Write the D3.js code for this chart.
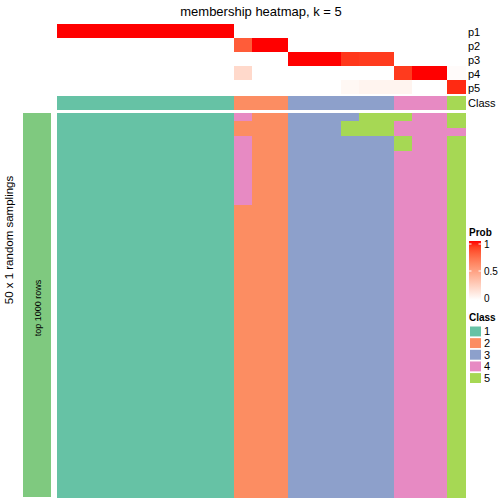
<!DOCTYPE html>
<html><head><meta charset="utf-8">
<script src="https://cdn.jsdelivr.net/npm/d3@7"></script>
<style>body{margin:0;background:#fff}svg{display:block}text{font-family:"Liberation Sans",Arial,Helvetica,sans-serif}</style>
</head><body>
<script>
// ---- data ----
const title = "membership heatmap, k = 5";
const probRows = ["p1", "p2", "p3", "p4", "p5"];
const p1 = [1,1,1,1,1,1,1,1,1,1, 0, 0,0, 0,0,0, 0, 0,0, 0, 0,0, 0];
const p2 = [0,0,0,0,0,0,0,0,0,0, 0.8, 1,1, 0,0,0, 0, 0,0, 0, 0,0, 0];
const p3 = [0,0,0,0,0,0,0,0,0,0, 0, 0,0, 1,1,1, 0.92, 0.91,0.91, 0, 0,0, 0];
const p4 = [0,0,0,0,0,0,0,0,0,0, 0.2, 0,0, 0,0,0, 0, 0,0, 0.91, 1,1, 0.02];
const p5 = [0,0,0,0,0,0,0,0,0,0, 0, 0,0, 0,0,0, 0.04, 0.06,0.06, 0.06, 0,0, 0.95];
const classes = [1,1,1,1,1,1,1,1,1,1, 2, 2,2, 3,3,3, 3, 3,3, 4, 4,4, 5];
// 50 random samplings (rows) x 23 samples (columns), class per cell
const samplings = [
"11111111114223333555445",
"11111111112223335554445",
"11111111112223335554444",
"11111111114223333335445",
"11111111114223333335445",
"11111111114223333334445",
"11111111114223333334445",
"11111111114223333334445",
"11111111114223333334445",
"11111111114223333334445",
"11111111114223333334445",
"11111111114223333334445",
"11111111112223333334445",
"11111111112223333334445",
"11111111112223333334445",
"11111111112223333334445",
"11111111112223333334445",
"11111111112223333334445",
"11111111112223333334445",
"11111111112223333334445",
"11111111112223333334445",
"11111111112223333334445",
"11111111112223333334445",
"11111111112223333334445",
"11111111112223333334445",
"11111111112223333334445",
"11111111112223333334445",
"11111111112223333334445",
"11111111112223333334445",
"11111111112223333334445",
"11111111112223333334445",
"11111111112223333334445",
"11111111112223333334445",
"11111111112223333334445",
"11111111112223333334445",
"11111111112223333334445",
"11111111112223333334445",
"11111111112223333334445",
"11111111112223333334445",
"11111111112223333334445",
"11111111112223333334445",
"11111111112223333334445",
"11111111112223333334445",
"11111111112223333334445",
"11111111112223333334445",
"11111111112223333334445",
"11111111112223333334445",
"11111111112223333334445",
"11111111112223333334445",
"11111111112223333334445"
];
const classLevels = [1, 2, 3, 4, 5];
const probTicks = [0, 0.5, 1];

// ---- drawing ----
const W = 504, H = 504;
const svg = d3.select("body").append("svg").attr("width", W).attr("height", H);
const probs = [p1, p2, p3, p4, p5];
const nCol = classes.length;

const x = d3.scaleBand().domain(d3.range(nCol)).range([57, 465]);
const yAnno = d3.scaleBand().domain(probRows).range([24, 94]);
const yMain = d3.scaleBand().domain(d3.range(samplings.length)).range([113, 497]);
const classColor = d3.scaleOrdinal().domain(classLevels).range(d3.schemeSet2.slice(0, 5));
const probColor = d3.scaleLinear().domain([0, 1]).range(["#ffffff", "#ff0000"]).interpolate(d3.interpolateLab);

const g = svg.append("g").attr("shape-rendering", "crispEdges");

// probability annotation rows
probRows.forEach((r, i) => {
  g.selectAll(null).data(probs[i]).join("rect")
    .attr("x", (d, j) => x(j)).attr("y", yAnno(r))
    .attr("width", x.bandwidth() + 0.5).attr("height", yAnno.bandwidth() + 0.3)
    .attr("fill", d => probColor(d));
});
// class annotation row
g.selectAll(null).data(classes).join("rect")
  .attr("x", (d, j) => x(j)).attr("y", 96)
  .attr("width", x.bandwidth() + 0.5).attr("height", 14)
  .attr("fill", d => classColor(d));

// main heatmap
samplings.forEach((row, i) => {
  g.selectAll(null).data(row.split("").map(Number)).join("rect")
    .attr("x", (d, j) => x(j)).attr("y", yMain(i))
    .attr("width", x.bandwidth() + 0.5).attr("height", yMain.bandwidth() + 0.5)
    .attr("fill", d => classColor(d));
});

// left row-group bar
g.append("rect").attr("x", 23).attr("y", 113).attr("width", 28).attr("height", 384).attr("fill", "#7FC97F");
svg.append("text").attr("transform", "translate(41,308) rotate(-90)")
  .attr("text-anchor", "middle").attr("font-size", 9).text("top 1000 rows");
svg.append("text").attr("transform", "translate(13,240) rotate(-90)")
  .attr("text-anchor", "middle").attr("font-size", 11.5).text("50 x 1 random samplings");

// title
svg.append("text").attr("x", 261).attr("y", 16).attr("text-anchor", "middle")
  .attr("font-size", 13).text(title);

// annotation names
probRows.forEach(r => {
  svg.append("text").attr("x", 468).attr("y", yAnno(r) + yAnno.bandwidth() / 2 + 4.5)
    .attr("font-size", 11).text(r);
});
svg.append("text").attr("x", 468).attr("y", 107).attr("font-size", 11).text("Class");

// Prob legend
const defs = svg.append("defs");
const grad = defs.append("linearGradient").attr("id", "pg").attr("x1", 0).attr("y1", 1).attr("x2", 0).attr("y2", 0);
d3.range(0, 1.001, 0.1).forEach(t => grad.append("stop").attr("offset", t).attr("stop-color", probColor(t)));
svg.append("text").attr("x", 469).attr("y", 236).attr("font-size", 10).attr("font-weight", "bold").text("Prob");
svg.append("rect").attr("x", 469).attr("y", 241).attr("width", 12).attr("height", 59).attr("fill", "url(#pg)");
const yLeg = d3.scaleLinear().domain([0, 1]).range([298, 244]);
probTicks.forEach(t => {
  svg.append("text").attr("x", 484).attr("y", yLeg(t) + 3.5).attr("font-size", 10).text(String(t));
  if (t > 0) {
    svg.append("line").attr("x1", 469).attr("x2", 471.5).attr("y1", yLeg(t)).attr("y2", yLeg(t)).attr("stroke", "#fff");
    svg.append("line").attr("x1", 478.5).attr("x2", 481).attr("y1", yLeg(t)).attr("y2", yLeg(t)).attr("stroke", "#fff");
  }
});

// Class legend
svg.append("text").attr("x", 469).attr("y", 321).attr("font-size", 10).attr("font-weight", "bold").text("Class");
const yCls = d3.scaleBand().domain(classLevels).range([326.5, 383]).paddingInner(0.15);
classLevels.forEach(c => {
  svg.append("rect").attr("x", 470).attr("y", yCls(c)).attr("width", 11).attr("height", yCls.bandwidth())
    .attr("fill", classColor(c));
  svg.append("text").attr("x", 484).attr("y", yCls(c) + yCls.bandwidth() / 2 + 4).attr("font-size", 11).text(String(c));
});
</script>
</body></html>
